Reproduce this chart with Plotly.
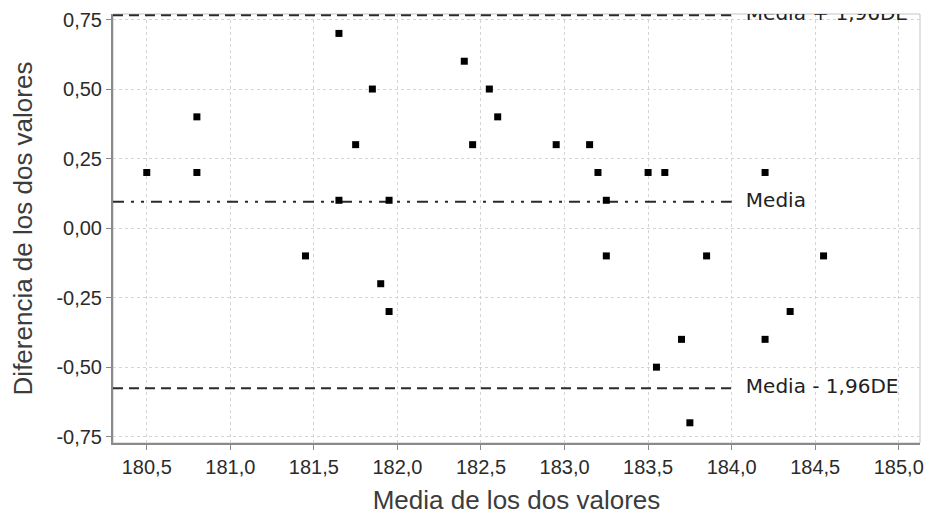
import plotly.graph_objects as go

# ---- data ----
media_x = [180.5, 180.8, 180.8, 181.45, 181.65, 181.65, 181.75, 181.85, 181.9, 181.95,
           181.95, 182.4, 182.45, 182.55, 182.6, 182.95, 183.15, 183.2, 183.25, 183.25,
           183.5, 183.55, 183.6, 183.7, 183.75, 183.85, 184.2, 184.2, 184.35, 184.55]
diferencia_y = [0.2, 0.4, 0.2, -0.1, 0.7, 0.1, 0.3, 0.5, -0.2, 0.1,
                -0.3, 0.6, 0.3, 0.5, 0.4, 0.3, 0.3, 0.2, 0.1, -0.1,
                0.2, -0.5, 0.2, -0.4, -0.7, -0.1, 0.2, -0.4, -0.3, -0.1]

media_dif = 0.0945
limite_sup = 0.765
limite_inf = -0.576
ref_labels = ["Media + 1,96DE", "Media", "Media - 1,96DE"]
ref_values = [limite_sup, media_dif, limite_inf]
ref_dash = ["10px,6px", "11px,7px,3px,7px,3px,7px", "10px,6px"]
ref_line_end = 184.0
ref_label_x = 184.085

x_tick_vals = [180.5, 181.0, 181.5, 182.0, 182.5, 183.0, 183.5, 184.0, 184.5, 185.0]
x_tick_text = ["180,5", "181,0", "181,5", "182,0", "182,5", "183,0", "183,5", "184,0", "184,5", "185,0"]
y_tick_vals = [-0.75, -0.5, -0.25, 0.0, 0.25, 0.5, 0.75]
y_tick_text = ["-0,75", "-0,50", "-0,25", "0,00", "0,25", "0,50", "0,75"]

x_range = [180.298, 185.127]
y_range = [-0.7727, 0.7698]

fig = go.Figure()

for lab, val, dash in zip(ref_labels, ref_values, ref_dash):
    fig.add_trace(go.Scatter(
        x=[x_range[0], ref_line_end], y=[val, val], mode="lines",
        line=dict(color="#2a2a2a", width=2, dash=dash),
        hoverinfo="skip", showlegend=False, cliponaxis=True))
    fig.add_trace(go.Scatter(
        x=[ref_label_x], y=[val], mode="text", text=[lab],
        textposition="middle right",
        textfont=dict(family="DejaVu Sans", size=20, color="#222222"),
        hoverinfo="skip", showlegend=False, cliponaxis=True))

fig.add_trace(go.Scatter(
    x=media_x, y=diferencia_y, mode="markers",
    marker=dict(symbol="square", size=7, color="black", line=dict(width=0)),
    showlegend=False, cliponaxis=True))

fig.add_shape(type="rect", xref="paper", yref="paper", x0=0, x1=1, y0=0, y1=1,
              line=dict(color="#c4c4c4", width=1), layer="below")

axis_common = dict(
    showgrid=True, gridcolor="#d4d4d4", gridwidth=1, griddash="dot",
    zeroline=False, showline=True, linecolor="#8a8a8a", linewidth=2,
    ticks="outside", ticklen=5, tickcolor="#8a8a8a", tickwidth=1,
    tickfont=dict(family="Liberation Sans, Arial, sans-serif", size=20, color="#2b2b2b"),
    automargin=False,
)

fig.update_xaxes(range=x_range, tickvals=x_tick_vals, ticktext=x_tick_text,
                 title=dict(text="Media de los dos valores", standoff=14,
                            font=dict(family="Liberation Sans, Arial, sans-serif", size=26, color="#3c3c3c")),
                 **axis_common)
fig.update_yaxes(range=y_range, tickvals=y_tick_vals, ticktext=y_tick_text,
                 title=dict(text="Diferencia de los dos valores", standoff=16,
                            font=dict(family="Liberation Sans, Arial, sans-serif", size=26, color="#3c3c3c")),
                 **axis_common)

fig.update_layout(
    width=931, height=517,
    margin=dict(l=113, r=11, t=14, b=74),
    paper_bgcolor="white", plot_bgcolor="white",
)

fig.write_html("out.html")
